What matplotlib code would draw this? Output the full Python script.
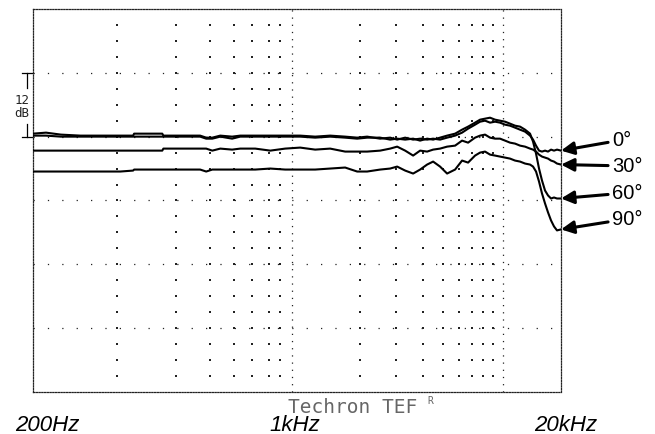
import numpy as np
import matplotlib.pyplot as plt
from matplotlib.transforms import blended_transform_factory

# frequency points (Hz) shared by all four sweeps
freq = [59, 68, 80, 99, 123, 153, 176, 178, 212, 242, 245, 295, 366, 391, 418, 456,
        519, 567, 668, 787, 926, 1091, 1285, 1514, 1783, 2033, 2267, 2613, 2914, 3146,
        3433, 3746, 4043, 4364, 4659, 5027, 5428, 5924, 6392, 6826, 7367, 7780, 8216,
        8677, 9165, 9678, 10221, 10794, 11400, 12040, 12716, 13428, 13875, 14335, 14811,
        15301, 15816, 16343, 16884, 17444, 18025, 18830]

# relative level (dB) per angle
resp_0 = [0.56, 0.75, 0.38, 0.19, 0.19, 0.19, 0.19, 0.56, 0.56, 0.56,
          0.19, 0.19, 0.19, -0.19, -0.19, 0.19, 0.0, 0.19, 0.19, 0.19,
          0.19, 0.19, 0.0, 0.19, 0.0, -0.19, 0.0, -0.38, -0.19, -0.56,
          -0.19, -0.56, -0.38, -0.56, -0.38, -0.56, -0.19, 0.19, 0.75, 1.5,
          2.25, 2.81, 3.0, 2.63, 2.81, 2.63, 2.25, 2.06, 1.69, 1.31,
          0.94, 0.19, -0.56, -1.69, -2.63, -2.81, -2.63, -2.81, -2.44, -2.63,
          -2.44, -2.63]
resp_30 = [-2.63, -2.63, -2.63, -2.63, -2.63, -2.63, -2.63, -2.63, -2.63, -2.63,
           -2.25, -2.25, -2.25, -2.25, -2.63, -2.25, -2.44, -2.25, -2.25, -2.63,
           -2.25, -2.06, -2.44, -2.25, -2.81, -2.81, -2.81, -2.63, -2.25, -1.88,
           -2.63, -3.56, -2.63, -2.81, -2.44, -2.25, -1.88, -1.69, -0.75, -1.13,
           -0.19, 0.19, 0.38, -0.19, -0.38, -0.38, -0.75, -1.13, -1.31, -1.69,
           -1.88, -2.25, -2.44, -2.81, -3.38, -3.75, -3.94, -4.13, -4.5, -4.69,
           -5.06, -5.25]
resp_60 = [0.19, 0.19, 0.0, 0.0, 0.0, 0.0, 0.0, 0.0, 0.0, 0.0,
           0.0, 0.0, 0.0, -0.38, -0.38, 0.0, -0.38, 0.0, 0.0, 0.0,
           0.0, 0.0, -0.19, 0.0, -0.19, -0.38, -0.19, -0.19, -0.56, -0.38,
           -0.56, -0.38, -0.75, -0.38, -0.56, -0.19, 0.19, 0.56, 1.31, 1.88,
           2.63, 3.19, 3.38, 3.56, 3.19, 3.0, 2.81, 2.44, 2.06, 1.88,
           1.31, 0.56, -0.94, -3.19, -6.0, -8.25, -10.13, -11.06, -11.63, -11.44,
           -11.63, -11.63]
resp_90 = [-6.56, -6.56, -6.56, -6.56, -6.56, -6.56, -6.38, -6.19, -6.19, -6.19,
           -6.19, -6.19, -6.19, -6.56, -6.19, -6.19, -6.19, -6.19, -6.19, -6.0,
           -6.19, -6.19, -6.19, -6.0, -5.81, -6.56, -6.56, -6.19, -6.0, -5.63,
           -6.38, -6.94, -6.19, -5.25, -4.69, -5.63, -6.94, -6.19, -4.5, -4.88,
           -3.56, -3.0, -2.81, -3.38, -3.56, -3.75, -3.94, -4.13, -4.5, -4.69,
           -5.06, -5.25, -5.63, -6.56, -8.44, -10.69, -12.56, -14.25, -15.75, -16.88,
           -17.63, -17.44]

angle_labels = ["0°", "30°", "60°", "90°"]
freq_labels = ["200Hz", "1kHz", "20kHz"]

# dotted grid columns of the analyser screen
col_freqs = [148, 282, 409, 531, 647, 778, 877, 2100, 3110, 4180, 5200, 6190, 7130, 8040, 8970]

fig = plt.figure(figsize=(6.55, 4.35), dpi=100)
ax = fig.add_axes([0.0504, 0.0966, 0.8061, 0.8805])
ax.set_xscale("log")
ax.set_xlim(59, 18830)
ax.set_ylim(-48, 24)
ax.set_xticks([])
ax.set_xticks([], minor=True)
ax.set_yticks([])
for sp in ax.spines.values():
    sp.set_linestyle((0, (1, 1.2)))
    sp.set_linewidth(0.9)
    sp.set_color("#222222")

# screen grid
for lev in [12, 0, -12, -24, -36]:
    ax.axhline(lev, color="#222222", lw=0.9, ls=(0, (1, 10.5)), zorder=1)
for f in [1000, 10000]:
    ax.axvline(f, color="#222222", lw=0.9, ls=(0, (1, 4.75)), zorder=1)
levels = np.arange(-45, 24, 3)
gx, gy = np.meshgrid(col_freqs, levels)
ax.scatter(gx.ravel(), gy.ravel(), s=2.2, c="#222222", marker="s", linewidths=0, zorder=1)

# sweeps
resps = [resp_0, resp_30, resp_60, resp_90]
for r in resps:
    ax.plot(freq, r, color="black", lw=1.5, zorder=3)

label_y = [0.658, 0.590, 0.520, 0.452]
for lab, r, yy in zip(angle_labels, resps, label_y):
    ax.annotate(lab, xy=(freq[-1], r[-1]), xycoords="data",
                xytext=(1.097, yy), textcoords="axes fraction",
                ha="left", va="center", fontsize=14.5, family="Liberation Sans",
                arrowprops=dict(arrowstyle="-|>", color="black", lw=2.2,
                                mutation_scale=19, shrinkA=1, shrinkB=0),
                annotation_clip=False)

# 12 dB scale marker on the left
tr = blended_transform_factory(ax.transAxes, ax.transData)
mx = -0.0114
ax.plot([mx, mx], [12, 9.2], transform=tr, clip_on=False, color="black", lw=0.9)
ax.plot([mx, mx], [2.4, 0], transform=tr, clip_on=False, color="black", lw=0.9)
for lev in [12, 0]:
    ax.plot([mx - 0.009, mx + 0.009], [lev, lev], transform=tr, clip_on=False,
            color="black", lw=0.9)
ax.text(-0.021, 5.8, "12\ndB", transform=tr, ha="center", va="center",
        fontsize=9, linespacing=0.95, family="DejaVu Sans Mono", color="#222222")

# frequency labels and analyser badge
for lab, xf in zip(freq_labels, [0.0718, 0.450, 0.864]):
    fig.text(xf, 0.022, lab, ha="center", va="center", fontsize=16,
             style="italic", family="Liberation Sans")
fig.text(0.539, 0.063, "Techron TEF", ha="center", va="center", fontsize=14,
         family="DejaVu Sans Mono", color="#666666")
fig.text(0.657, 0.078, "R", ha="center", va="center", fontsize=7,
         family="DejaVu Sans Mono", color="#666666")

fig.savefig("out.png", dpi=100)
